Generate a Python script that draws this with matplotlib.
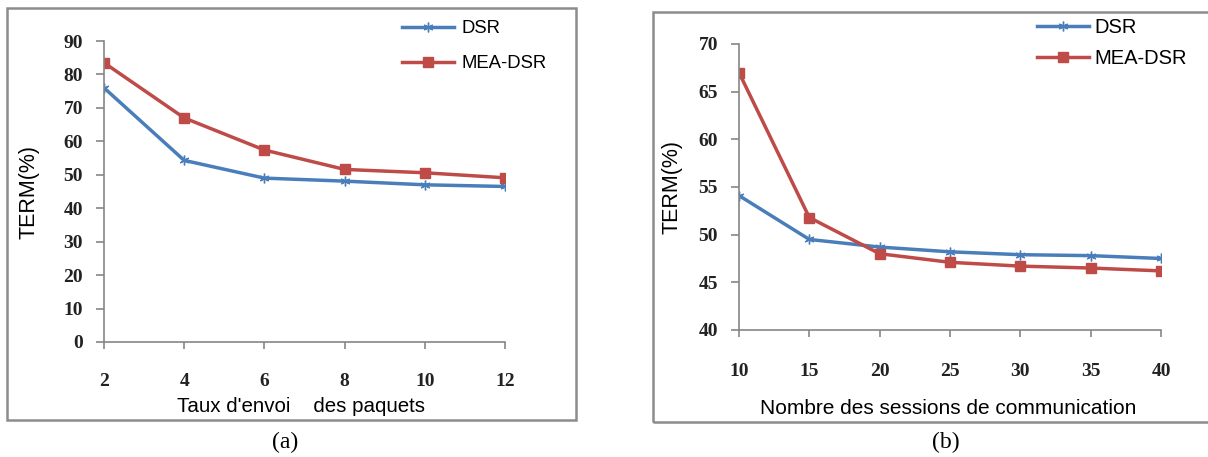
import matplotlib
matplotlib.use("Agg")
import matplotlib.pyplot as plt
from matplotlib.patches import Rectangle

# --- data ---
taux = [2, 4, 6, 8, 10, 12]
dsr_a = [76.0, 54.3, 49.0, 48.1, 47.0, 46.5]
mea_a = [83.5, 67.0, 57.4, 51.6, 50.6, 49.1]

sessions = [10, 15, 20, 25, 30, 35, 40]
dsr_b = [54.1, 49.5, 48.7, 48.2, 47.9, 47.8, 47.5]
mea_b = [67.0, 51.8, 48.0, 47.1, 46.7, 46.5, 46.2]

yticks_a = list(range(0, 91, 10))
yticks_b = list(range(40, 71, 5))

BLUE = "#4a7ebb"
RED = "#be4b48"
AXC = "#868686"
W, H = 1208, 457

fig = plt.figure(figsize=(W / 100, H / 100), dpi=100)


def fx(px):
    return px / W


def fy(py):
    return 1 - py / H


def style_axes(ax, xpad):
    for s in ["top", "right"]:
        ax.spines[s].set_visible(False)
    for s in ["left", "bottom"]:
        ax.spines[s].set_color(AXC)
        ax.spines[s].set_linewidth(1.2)
    ax.tick_params(axis="y", direction="out", length=6, width=1.2, color=AXC, pad=9)
    ax.tick_params(axis="x", direction="out", length=5, width=1.2, color=AXC, pad=xpad)
    for lab in ax.get_xticklabels() + ax.get_yticklabels():
        lab.set_family("Liberation Serif")
        lab.set_fontweight("bold")
        lab.set_fontsize(14)
        lab.set_color("#222222")


def draw(ax, x, d, m):
    ax.plot(x, d, color=BLUE, lw=2.5, marker=(6, 2, 0), ms=7, mew=1.0, label="DSR")
    ax.plot(x, m, color=RED, lw=2.5, marker="s", ms=6.5, label="MEA-DSR")


# --- panel (a) ---
ax1 = fig.add_axes([fx(104), fy(342), fx(505) - fx(104), fy(41) - fy(342)])
draw(ax1, taux, dsr_a, mea_a)
ax1.set_xlim(2, 12)
ax1.set_ylim(0, 90)
ax1.set_xticks(taux)
ax1.set_yticks(yticks_a)
style_axes(ax1, 17)
ax1.legend(loc="upper left", bbox_to_anchor=(fx(402), fy(20)), bbox_transform=fig.transFigure,
           frameon=False, prop={"family": "Liberation Sans", "size": 13.3},
           handlelength=2.8, labelspacing=1.0, handletextpad=0.4,
           borderpad=0, borderaxespad=0)
fig.text(fx(29), fy(192), "TERM(%)", rotation=90, ha="center", va="center",
         family="Liberation Sans", fontsize=15.5)
fig.text(fx(301), fy(406), "Taux d'envoi    des paquets", ha="center", va="center",
         family="Liberation Sans", fontsize=14.8)
fig.text(fx(285), fy(442), "(a)", ha="center", va="center", family="Liberation Serif", fontsize=17)

# --- panel (b) ---
ax2 = fig.add_axes([fx(739), fy(330), fx(1161) - fx(739), fy(44) - fy(330)])
draw(ax2, sessions, dsr_b, mea_b)
ax2.set_xlim(10, 40)
ax2.set_ylim(40, 70)
ax2.set_xticks(sessions)
ax2.set_yticks(yticks_b)
style_axes(ax2, 19)
ax2.legend(loc="upper left", bbox_to_anchor=(fx(1037), fy(18)), bbox_transform=fig.transFigure,
           frameon=False, prop={"family": "Liberation Sans", "size": 14.5},
           handlelength=2.6, labelspacing=0.6, handletextpad=0.25,
           borderpad=0, borderaxespad=0)
fig.text(fx(672), fy(187), "TERM(%)", rotation=90, ha="center", va="center",
         family="Liberation Sans", fontsize=15.5)
fig.text(fx(948), fy(408), "Nombre des sessions de communication", ha="center", va="center",
         family="Liberation Sans", fontsize=15)
fig.text(fx(946), fy(442), "(b)", ha="center", va="center", family="Liberation Serif", fontsize=17)

# panel frames
fig.patches.append(Rectangle((fx(7), fy(420)), fx(576) - fx(7), fy(8) - fy(420),
                             transform=fig.transFigure, fill=False, ec="#8c8c8c", lw=1.8))
fig.patches.append(Rectangle((fx(653), fy(422)), fx(1215) - fx(653), fy(12) - fy(422),
                             transform=fig.transFigure, fill=False, ec="#8c8c8c", lw=1.8))

fig.savefig("out.png", dpi=100)
